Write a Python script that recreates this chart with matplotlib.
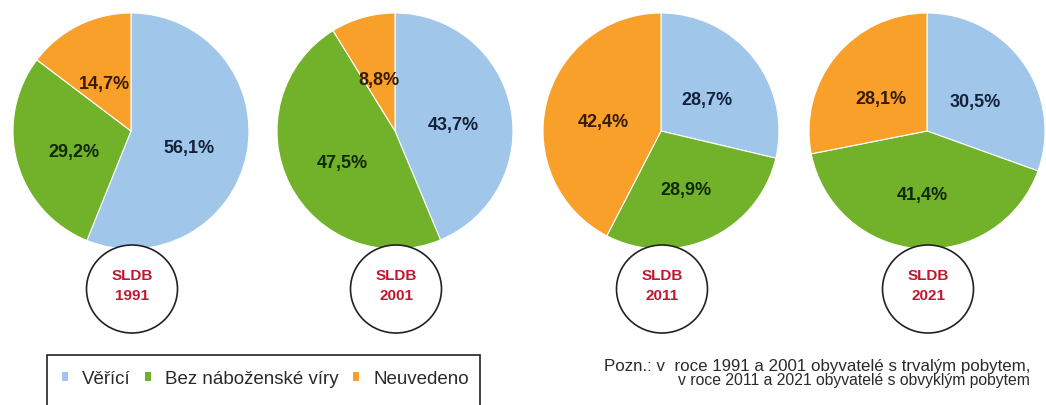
import matplotlib
matplotlib.use("Agg")
import matplotlib.pyplot as plt
from matplotlib.patches import Ellipse, Rectangle, Patch

# ---- data ----
years = ["1991", "2001", "2011", "2021"]
categories = ["Věřící", "Bez náboženské víry", "Neuvedeno"]
veri = [56.1, 43.7, 28.7, 30.5]
bez = [29.2, 47.5, 28.9, 41.4]
neuv = [14.7, 8.8, 42.4, 28.1]
colors = ["#A0C7EA", "#72B12A", "#F8A02A"]
label_colors = ["#14213A", "#0F2A05", "#3A1A00"]
note_lines = ["Pozn.: v  roce 1991 a 2001 obyvatelé s trvalým pobytem,",
              "v roce 2011 a 2021 obyvatelé s obvyklým pobytem"]

W, H = 1046, 405
plt.rcParams['font.family'] = ['Liberation Sans', 'DejaVu Sans']
fig = plt.figure(figsize=(W / 100, H / 100), dpi=100)

centers_x = [131, 395, 661, 927]
cy = 131
R = 118

for i, yr in enumerate(years):
    cx = centers_x[i]
    ax = fig.add_axes([(cx - R) / W, 1 - (cy + R) / H, 2 * R / W, 2 * R / H])
    vals = [veri[i], bez[i], neuv[i]]
    wedges, texts, autotexts = ax.pie(
        vals, colors=colors, startangle=90, counterclock=False,
        autopct=lambda p: f"{p:.1f}%".replace(".", ","), pctdistance=0.5,
        wedgeprops=dict(linewidth=0.8, edgecolor="white"),
        textprops=dict(fontsize=13, fontweight="bold"))
    for t, c in zip(autotexts, label_colors):
        t.set_color(c)
        x, y = t.get_position()
        t.set_position((x, y - 0.05))
    ax.set_xlim(-1, 1)
    ax.set_ylim(-1, 1)
    ax.set_aspect("equal")
    ax.axis("off")

# overlay in pixel coordinates
ov = fig.add_axes([0, 0, 1, 1])
ov.set_xlim(0, W)
ov.set_ylim(H, 0)
ov.axis("off")

for i, yr in enumerate(years):
    cx = centers_x[i]
    ov.add_patch(Ellipse((cx + 1, 289), 91, 88, facecolor="white",
                         edgecolor="#222222", linewidth=1.2))
    ov.text(cx + 1, 276, "SLDB", ha="center", va="center", color="#C0172E",
            fontsize=11, fontweight="bold")
    ov.text(cx + 1, 296, yr, ha="center", va="center", color="#C0172E",
            fontsize=11, fontweight="bold")

# legend box
ov.add_patch(Rectangle((47, 355), 433, 80, facecolor="white",
                       edgecolor="#222222", linewidth=1.2, clip_on=False))
handles = [Patch(facecolor=c, edgecolor="none") for c in colors]
leg = ov.legend(handles, categories, ncol=3, loc="center left",
                bbox_to_anchor=(62 / W, 1 - 379 / H), frameon=False,
                fontsize=13.5, handlelength=0.33, handleheight=0.33,
                handletextpad=0.75, columnspacing=0.75, borderpad=0,
                borderaxespad=0, labelcolor="#2a2a2a")

ov.text(1030, 366, note_lines[0], ha="right", va="center", fontsize=12.2,
        color="#2a2a2a")
ov.text(1030, 381, note_lines[1], ha="right", va="center", fontsize=11.3,
        color="#2a2a2a")

fig.savefig("out.png", dpi=100, facecolor="white")
